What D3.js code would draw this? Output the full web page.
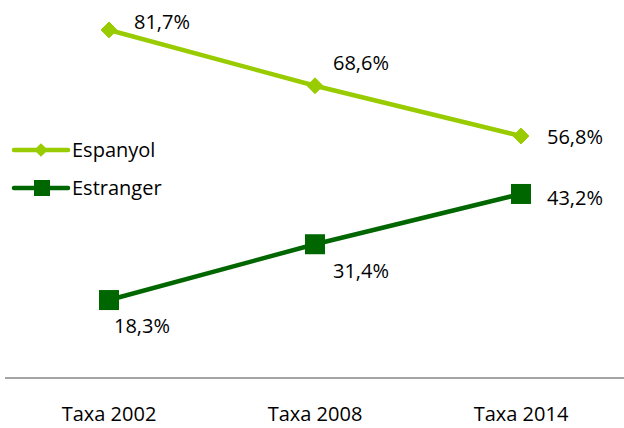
<!DOCTYPE html>
<meta charset="utf-8">
<head>
	<script type="text/javascript" src="https://cdn.jsdelivr.net/npm/d3@7"></script>
	<style>
		body { margin: 0; background: #fff; }
		text { font-family: "Open Sans", "Noto Sans", sans-serif; fill: #000; }
	</style>
</head>
<body>
	<div id="chart"></div>
	<script>
		// data
		const categories = ["Taxa 2002", "Taxa 2008", "Taxa 2014"];
		const seriesNames = ["Espanyol", "Estranger"];
		const espanyol = [81.7, 68.6, 56.8];
		const estranger = [18.3, 31.4, 43.2];

		const width = 624;
		const height = 428;

		const colors = ["#99cc00", "#006600"];

		const svg = d3.select("#chart")
			.append("svg")
			.attr("width", width)
			.attr("height", height);

		const x = d3.scalePoint()
			.domain(categories)
			.range([109, 521]);

		const y = d3.scaleLinear()
			.domain([0, 100])
			.range([378, -48]);

		// axis line + labels
		svg.append("line")
			.attr("x1", 5).attr("x2", 624)
			.attr("y1", y(0)).attr("y2", y(0))
			.attr("stroke", "#868686")
			.attr("stroke-width", 1.5);

		svg.selectAll(".xlab")
			.data(categories)
			.enter().append("text")
			.attr("class", "xlab")
			.attr("x", d => x(d))
			.attr("y", 414)
			.attr("dy", "0.35em")
			.attr("text-anchor", "middle")
			.style("font-size", "20px")
			.text(d => d);

		const line = d3.line()
			.x((d, i) => x(categories[i]))
			.y(d => y(d));

		const series = [espanyol, estranger];

		series.forEach((vals, s) => {
			svg.append("path")
				.datum(vals)
				.attr("d", line)
				.attr("fill", "none")
				.attr("stroke", colors[s])
				.attr("stroke-width", 4.5);
		});

		// markers
		svg.selectAll(".diamond")
			.data(espanyol)
			.enter().append("path")
			.attr("class", "diamond")
			.attr("d", d3.symbol().type(d3.symbolDiamond2).size(160))
			.attr("transform", (d, i) => `translate(${x(categories[i])},${y(d)})`)
			.attr("fill", colors[0])
			.attr("stroke", colors[0])
			.attr("stroke-linejoin", "round");

		svg.selectAll(".square")
			.data(estranger)
			.enter().append("rect")
			.attr("class", "square")
			.attr("x", (d, i) => x(categories[i]) - 10)
			.attr("y", d => y(d) - 10)
			.attr("width", 20)
			.attr("height", 20)
			.attr("fill", colors[1]);

		// value labels (offsets from the point)
		const fmt = v => d3.format(".1f")(v).replace(".", ",") + "%";
		const offsEsp = [[25, -8], [18, -23], [26, 1]];
		const offsEst = [[5, 26], [18, 27], [26, 4]];

		[[espanyol, offsEsp], [estranger, offsEst]].forEach(([vals, offs]) => {
			svg.append("g").selectAll("text")
				.data(vals)
				.enter().append("text")
				.attr("x", (d, i) => x(categories[i]) + offs[i][0])
				.attr("y", (d, i) => y(d) + offs[i][1])
				.attr("dy", "0.35em")
				.style("font-size", "20px")
				.text(d => fmt(d));
		});

		// legend
		const legend = svg.append("g");
		seriesNames.forEach((name, s) => {
			const ly = 150 + s * 38;
			legend.append("line")
				.attr("x1", 14).attr("x2", 68)
				.attr("y1", ly).attr("y2", ly)
				.attr("stroke", colors[s])
				.attr("stroke-width", 4.5)
				.attr("stroke-linecap", "round");
			if (s === 0) {
				legend.append("path")
					.attr("d", d3.symbol().type(d3.symbolDiamond2).size(120))
					.attr("transform", `translate(41,${ly})`)
					.attr("fill", colors[s]);
			} else {
				legend.append("rect")
					.attr("x", 34).attr("y", ly - 8)
					.attr("width", 16).attr("height", 16)
					.attr("fill", colors[s]);
			}
			legend.append("text")
				.attr("x", 72)
				.attr("y", ly)
				.attr("dy", "0.35em")
				.style("font-size", "20px")
				.text(name);
		});
	</script>
</body>
</html>
